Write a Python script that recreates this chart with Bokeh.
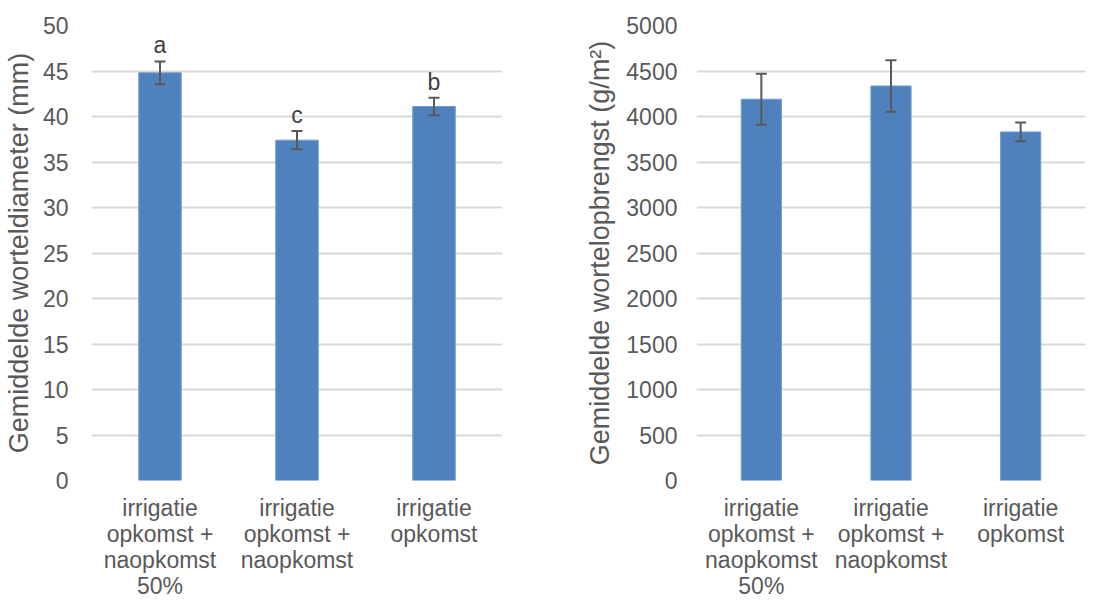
from bokeh.plotting import figure
from bokeh.layouts import row
from bokeh.models import FactorRange, Range1d, FixedTicker, ColumnDataSource, Whisker, TeeHead
from bokeh.core.properties import value
from bokeh.embed import file_html
from bokeh.resources import INLINE

categories = ["irrigatie\nopkomst +\nnaopkomst\n50%", "irrigatie\nopkomst +\nnaopkomst", "irrigatie\nopkomst"]
diameter = [44.8, 37.4, 41.1]
diameter_err = [1.25, 1.0, 0.95]
diameter_letters = ["a", "c", "b"]
yield_vals = [4190, 4335, 3830]
yield_err = [280, 283, 103]
diam_ticks = [0, 5, 10, 15, 20, 25, 30, 35, 40, 45, 50]
yield_ticks = [0, 500, 1000, 1500, 2000, 2500, 3000, 3500, 4000, 4500, 5000]

FONT = "Liberation Sans"
TXT = "#595959"
BAR = "#4F81BD"
GRID = "#D9D9D9"
ERR = "#595959"


def make(vals, errs, ticks, ymax, ylabel, w, h, bl, br, bt, bb, letters=None):
    p = figure(x_range=FactorRange(*categories), y_range=Range1d(0, ymax),
               width=w, height=h, output_backend="svg", toolbar_location=None,
               min_border_left=bl, min_border_right=br, min_border_top=bt, min_border_bottom=bb)
    src = ColumnDataSource(dict(x=categories, top=vals,
                                lo=[v - e for v, e in zip(vals, errs)],
                                hi=[v + e for v, e in zip(vals, errs)],
                                lab=letters if letters else [""] * len(vals)))
    p.vbar(x="x", top="top", width=0.31, source=src, fill_color=BAR, line_color="#6f9bd0", line_width=1)
    wk = Whisker(base="x", upper="hi", lower="lo", source=src, line_color=ERR, line_width=2,
                 upper_head=TeeHead(size=11, line_color=ERR, line_width=2),
                 lower_head=TeeHead(size=11, line_color=ERR, line_width=2))
    wk.level = "overlay"
    p.add_layout(wk)
    if letters:
        p.text(x="x", y="hi", text="lab", source=src, text_font=value(FONT), text_font_size="23px",
               text_color="#404040", text_align="center", text_baseline="bottom", y_offset=-3)
    p.outline_line_color = None
    p.xgrid.grid_line_color = None
    p.ygrid.grid_line_color = GRID
    p.ygrid.grid_line_width = 2
    p.yaxis.ticker = FixedTicker(ticks=ticks)
    for ax in (p.xaxis[0], p.yaxis[0]):
        ax.axis_line_color = None
        ax.major_tick_line_color = None
        ax.minor_tick_line_color = None
        ax.major_label_text_font = FONT
        ax.major_label_text_color = TXT
        ax.major_label_text_font_size = "23px"
    p.xaxis.major_label_text_line_height = 1.0
    p.xaxis.major_label_standoff = 8
    p.yaxis.axis_label = ylabel
    p.yaxis.axis_label_text_font = FONT
    p.yaxis.axis_label_text_font_style = "normal"
    p.yaxis.axis_label_text_color = TXT
    p.yaxis.axis_label_text_font_size = "27px"
    return p


p1 = make(diameter, diameter_err, diam_ticks, 50, "Gemiddelde worteldiameter (mm)",
          550, 601, 89, 48, 25, 121, diameter_letters)
p1.yaxis.major_label_standoff = 17
p1.yaxis.axis_label_standoff = 6
p2 = make(yield_vals, yield_err, yield_ticks, 5000, "Gemiddelde wortelopbrengst (g/m²)",
          545, 601, 146, 10, 25, 121)
p2.yaxis.major_label_standoff = 13
p2.yaxis.axis_label_standoff = 8

layout = row(p1, p2)
html = file_html(layout, INLINE)
html = html.replace("<head>", "<head><style>html, body { overflow: hidden; }</style>", 1)
open("out.html", "w").write(html)
